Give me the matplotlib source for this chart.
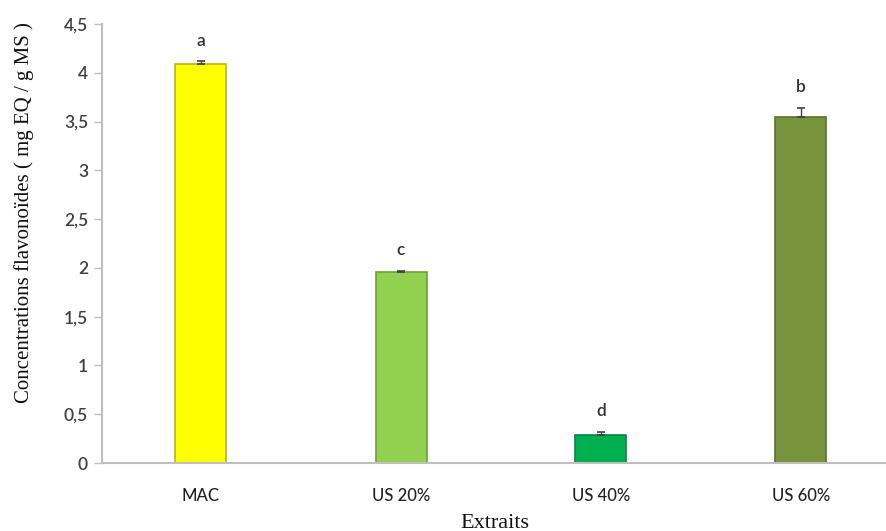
import matplotlib
matplotlib.use("Agg")
import matplotlib.pyplot as plt
import numpy as np

categories = ["MAC", "US 20%", "US 40%", "US 60%"]
values = [4.09, 1.96, 0.29, 3.55]
errors = [0.03, 0.01, 0.03, 0.09]
letters = ["a", "c", "d", "b"]
colors = ["#FFFF00", "#92D050", "#00B050", "#77933C"]
edges = ["#B5B520", "#6F9E3E", "#08864A", "#5B7230"]
yticks = [0, 0.5, 1, 1.5, 2, 2.5, 3, 3.5, 4, 4.5]
ytick_labels = ["0", "0,5", "1", "1,5", "2", "2,5", "3", "3,5", "4", "4,5"]

fig = plt.figure(figsize=(8.87, 5.31), dpi=100)
ax = fig.add_axes([102 / 887, 68 / 531, 785 / 887, 439 / 531])

x = np.arange(len(categories))
ax.bar(x, values, width=0.255, color=colors, edgecolor=edges, linewidth=1.2, zorder=2)
ax.errorbar(x, values, yerr=[np.zeros(len(errors)), errors], fmt="none",
            ecolor="#404040", elinewidth=1.0, capsize=3, capthick=1.2, zorder=3)

for xi, v, e, lab in zip(x, values, errors, letters):
    ax.annotate(lab, (xi, v + e), xytext=(0, 9), textcoords="offset points",
                ha="center", va="bottom", fontsize=12.5, color="#333333",
                family="Lato", fontweight="semibold")

ax.set_xlim(-0.495, 3.43)
ax.set_ylim(0, 4.5)
ax.set_yticks(yticks)
ax.set_yticklabels(ytick_labels, family="Lato", fontsize=12.5, color="#404040",
                   fontweight="semibold")
ax.set_xticks(x)
ax.set_xticklabels(categories, family="Lato", fontsize=12, color="#222222",
                   fontweight="medium")
ax.tick_params(axis="x", length=0, pad=18)
ax.tick_params(axis="y", length=6, width=1, color="#BFBFBF", pad=4, direction="out")

for s in ["top", "right"]:
    ax.spines[s].set_visible(False)
for s in ["left", "bottom"]:
    ax.spines[s].set_color("#BFBFBF")
    ax.spines[s].set_linewidth(1.5)

ax.set_ylabel("Concentrations flavonoïdes ( mg EQ / g MS )", family="Liberation Serif",
              fontsize=15, color="#111111")
ax.yaxis.set_label_coords(-0.087, 0.57)
ax.set_xlabel("Extraits", family="Liberation Serif", fontsize=16, color="#111111", labelpad=7)

fig.savefig("out.png", dpi=100)
